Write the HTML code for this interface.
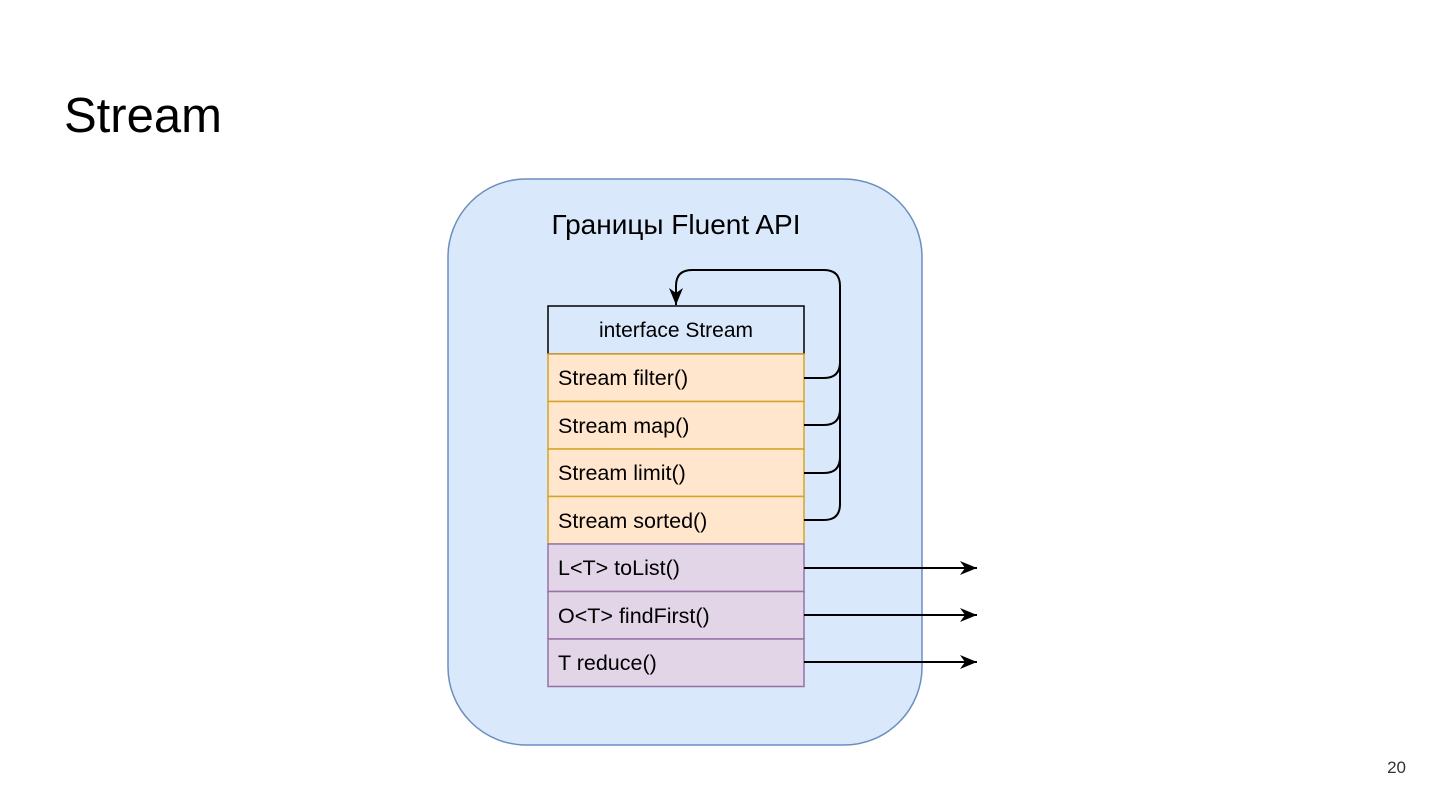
<!DOCTYPE html>
<html><head><meta charset="utf-8"><style>
html,body{margin:0;padding:0;background:#fff;}
svg{display:block;font-family:"Liberation Sans","Noto Sans CJK SC",sans-serif;}
</style></head><body>
<svg width="1440" height="810" viewBox="0 0 1440 810" xmlns="http://www.w3.org/2000/svg">
<defs>
<marker id="d" markerWidth="18" markerHeight="16" refX="17" refY="8" orient="auto" markerUnits="userSpaceOnUse"><path d="M0,1 L17,8 L0,15 L5,8 Z" fill="#000"/></marker></defs>
<text x="64" y="132" font-size="49" fill="#000">Stream</text>
<rect x="448" y="179" width="474" height="566" rx="78" fill="#dae8fc" stroke="#6c8ebf" stroke-width="1.5"/>
<text x="676" y="234" font-size="28" text-anchor="middle" fill="#000">Границы Fluent API</text>
<rect x="548" y="306" width="256" height="48" fill="#dae8fc" stroke="#000" stroke-width="1.5"/>
<text x="676" y="337" font-size="21" text-anchor="middle">interface Stream</text>
<g stroke="#d6a32a" stroke-width="1.5" fill="#ffe6cc">
<rect x="548" y="354" width="256" height="47.5"/><rect x="548" y="401.5" width="256" height="47.5"/><rect x="548" y="449" width="256" height="47.5"/><rect x="548" y="496.5" width="256" height="47.5"/></g>
<g stroke="#9673a6" stroke-width="1.5" fill="#e1d5e7">
<rect x="548" y="544" width="256" height="47.5"/><rect x="548" y="591.5" width="256" height="47.5"/><rect x="548" y="639" width="256" height="47.5"/></g>
<g font-size="21.5" fill="#000">
<text x="558" y="385">Stream filter()</text><text x="558" y="433">Stream map()</text><text x="558" y="480">Stream limit()</text><text x="558" y="528">Stream sorted()</text>
<text x="558" y="575">L&lt;T&gt; toList()</text><text x="558" y="623">O&lt;T&gt; findFirst()</text><text x="558" y="670">T reduce()</text></g>
<g fill="none" stroke="#000" stroke-width="2">
<path d="M804,378 H824 Q840,378 840,362"/><path d="M804,425 H824 Q840,425 840,409"/><path d="M804,473 H824 Q840,473 840,457"/>
<path d="M804,520 H824 Q840,520 840,504 V286 Q840,270 824,270 H692 Q676,270 676,286 V305" marker-end="url(#d)"/>
<path d="M804,568 H977" marker-end="url(#d)"/><path d="M804,615 H977" marker-end="url(#d)"/><path d="M804,662 H977" marker-end="url(#d)"/>
</g>
<text x="1406" y="773" font-size="17" text-anchor="end" fill="#333">20</text>
</svg>
</body></html>
